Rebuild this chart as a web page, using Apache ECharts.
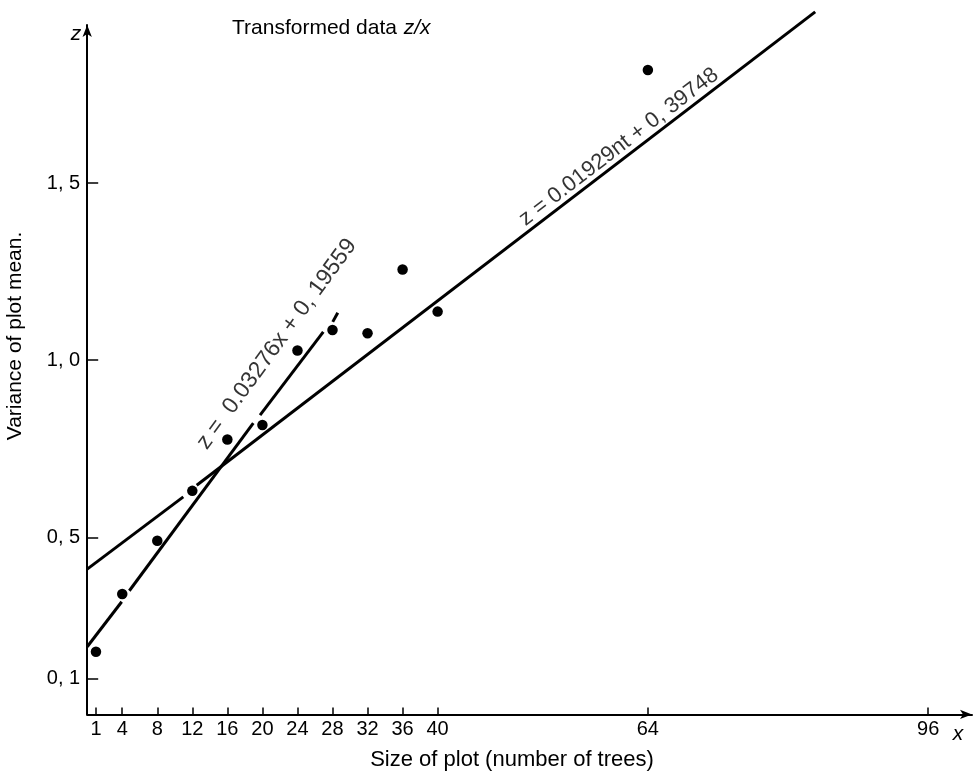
<!DOCTYPE html>
<html>
<head>
<meta charset="utf-8">
<script src="https://cdn.jsdelivr.net/npm/echarts@6/dist/echarts.min.js"></script>
<style>html,body{margin:0;padding:0;background:#fff}#c{width:977px;height:778px}</style>
</head>
<body>
<div id="c"></div>
<script>
// ---- data ----
const plotSizes = [1, 4, 8, 12, 16, 20, 24, 28, 32, 36, 40, 64];
const zValues = [0.177, 0.340, 0.490, 0.631, 0.776, 0.817, 1.027, 1.085, 1.076, 1.256, 1.137, 1.819];

// regression line z = 0.01929x + 0.39748 (as drawn, broken where it meets a point)
const line1Segments = [
  [[0, 0.410], [10.97, 0.614]],
  [[12.5, 0.647], [83.1, 1.983]]
];
// regression line z = 0.03276x + 0.19559 (as drawn, with its breaks)
const line2Segments = [
  [[0, 0.191], [3.94, 0.318]],
  [[4.81, 0.349], [18.96, 0.822]],
  [[19.73, 0.845], [26.95, 1.080]],
  [[28.03, 1.108], [28.6, 1.134]]
];

const xTickValues = [1, 4, 8, 12, 16, 20, 24, 28, 32, 36, 40, 64, 96];
const yTickValues = [0.1, 0.5, 1.0, 1.5];
const yTickLabels = ['0, 1', '0, 5', '1, 0', '1, 5'];

const eq1Text = 'z = 0.01929nt + 0, 39748';
const eq1Anchor = [60.7, 1.602];
const eq2Text = 'z =  0.03276x + 0, 19559';
const eq2Anchor = [21.63, 1.045];

const titleText = 'Transformed data';
const xAxisTitle = 'Size of plot (number of trees)';
const yAxisTitle = 'Variance of plot mean.';

// ---- chart ----
const FONT = '"Liberation Sans", Arial, Helvetica, sans-serif';
const chart = echarts.init(document.getElementById('c'), null, {renderer: 'canvas'});

const series = [];
line1Segments.concat(line2Segments).forEach(seg => {
  series.push({
    type: 'line', data: seg, symbol: 'none', clip: false, silent: true,
    lineStyle: {color: '#000', width: 3}, z: 2, animation: false
  });
});
series.push({
  type: 'scatter', data: plotSizes.map((x, i) => [x, zValues[i]]),
  symbol: 'circle', symbolSize: 10.5, itemStyle: {color: '#000', opacity: 1}, z: 3, animation: false
});
[[eq1Text, eq1Anchor, 37.5, 22], [eq2Text, eq2Anchor, 53.8, 23]].forEach(([t, a, r, fs]) => {
  series.push({
    type: 'scatter', data: [a], symbolSize: 1, itemStyle: {color: 'rgba(0,0,0,0)'},
    clip: false, z: 4, animation: false,
    label: {show: true, position: 'inside', formatter: t, rotate: r,
      color: '#000', fontSize: fs, fontFamily: FONT, align: 'center', verticalAlign: 'middle'}
  });
});

chart.setOption({
  backgroundColor: '#fff',
  animation: false,
  grid: {left: 87.2, right: 5, top: 25, bottom: 63.6, containLabel: false, outerBoundsMode: 'none'},
  xAxis: {
    type: 'value', min: 0, max: 101,
    name: 'x', nameLocation: 'end', nameGap: -14,
    nameTextStyle: {fontFamily: FONT, fontSize: 21, fontStyle: 'italic', color: '#000',
      align: 'center', verticalAlign: 'top', padding: [9, 0, 0, 0]},
    axisLine: {show: true, lineStyle: {color: '#000', width: 2}, symbol: ['none', 'arrow'], symbolSize: [7, 12]},
    axisTick: {show: true, inside: true, length: 7, customValues: xTickValues, lineStyle: {color: '#000', width: 1.5}},
    axisLabel: {show: true, customValues: xTickValues, margin: 5, color: '#000', fontSize: 20, fontFamily: FONT},
    splitLine: {show: false}
  },
  yAxis: {
    type: 'value', min: 0, max: 1.946,
    name: 'z', nameLocation: 'end', nameGap: -9,
    nameTextStyle: {fontFamily: FONT, fontSize: 21, fontStyle: 'italic', color: '#000',
      align: 'right', verticalAlign: 'middle', padding: [0, 6, 0, 0]},
    axisLine: {show: true, lineStyle: {color: '#000', width: 2}, symbol: ['none', 'arrow'], symbolSize: [7, 12]},
    axisTick: {show: true, inside: true, length: 11, customValues: yTickValues, lineStyle: {color: '#000', width: 1.5}},
    axisLabel: {show: true, customValues: yTickValues, margin: 7, color: '#000', fontSize: 20, fontFamily: FONT,
      formatter: v => { const i = yTickValues.findIndex(t => Math.abs(t - v) < 1e-6); return i >= 0 ? yTickLabels[i] : ''; }},
    splitLine: {show: false}
  },
  graphic: [
    {type: 'text', x: 232, y: 28, style: {
      text: '{a|' + titleText + '}  {b|z/x}', verticalAlign: 'middle',
      rich: {a: {fontSize: 21, fontFamily: FONT, fill: '#000'}, b: {fontSize: 21, fontFamily: FONT, fontStyle: 'italic', fill: '#000'}}
    }},
    {type: 'text', x: 512, y: 760, style: {text: xAxisTitle, align: 'center', verticalAlign: 'middle',
      fontSize: 22, fontFamily: FONT, fill: '#000'}},
    {type: 'text', x: 15, y: 336, rotation: Math.PI / 2, style: {text: yAxisTitle, align: 'center', verticalAlign: 'middle',
      fontSize: 21, fontFamily: FONT, fill: '#000'}}
  ],
  series: series
});
</script>
</body>
</html>
